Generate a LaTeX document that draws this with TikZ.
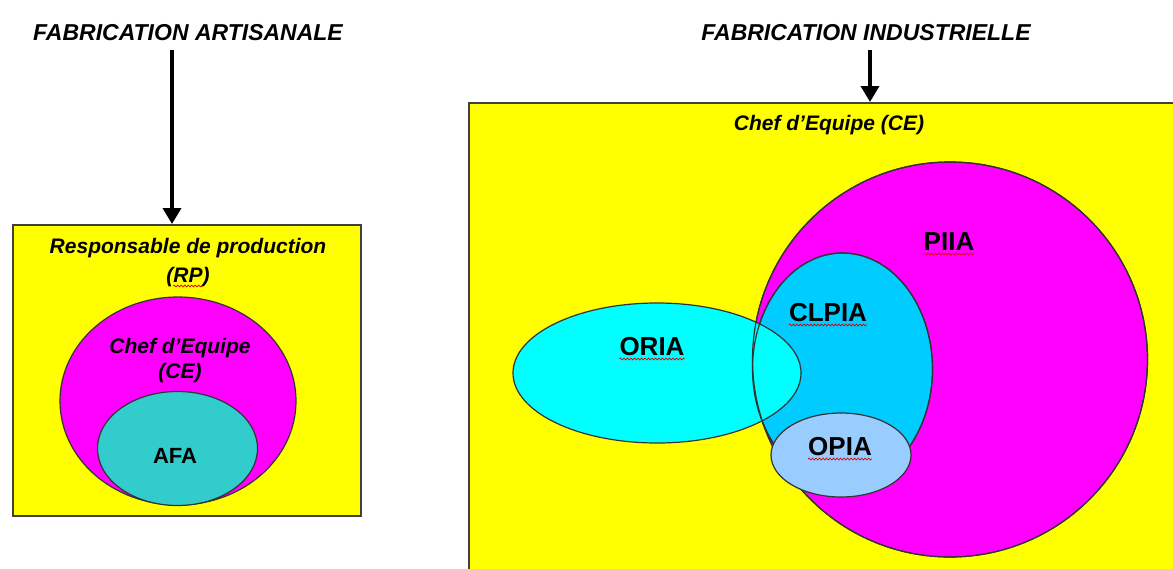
\documentclass[tikz,border=0pt]{standalone}
\usepackage{fontspec}
\setmainfont{Liberation Sans}
\usetikzlibrary{positioning, arrows.meta, shapes.geometric, decorations.pathmorphing}
\definecolor{jaune}{RGB}{255,255,0}
\definecolor{rose}{RGB}{255,0,255}
\definecolor{turquoise}{RGB}{51,204,204}
\definecolor{ciel}{RGB}{0,255,255}
\definecolor{azur}{RGB}{0,204,255}
\definecolor{pale}{RGB}{153,204,255}
\tikzset{
x=1pt, y=-1pt, % coordinates are pixels of the page, y going down
cadre/.style={draw=black!75, line width=1.5pt, fill=jaune, inner sep=0pt}, % the yellow frames
zone/.style={ellipse, draw=black!80, line width=1.2pt, inner sep=0pt}, % the sets
trait/.style={draw=black!80, line width=1.2pt}, % outline drawn again on top
titre/.style={font=\fontsize{23}{28}\selectfont\bfseries\itshape, inner sep=0pt, anchor=base},
role/.style={font=\fontsize{21}{25}\selectfont\bfseries\itshape, inner sep=0pt},
sigle/.style={font=\fontsize{26}{30}\selectfont\bfseries, inner sep=0pt, anchor=base},
fleche/.style={line width=3.5pt, -{Triangle[width=18pt,length=16pt]}},
faute/.style={draw=red!85!black, line width=0.7pt, decorate, decoration={snake, amplitude=0.9pt, segment length=3.5pt}}, % spelling marks
}

\begin{document}
\begin{tikzpicture}
        \useasboundingbox (0,0) rectangle (1173,568);
        \clip (0,0) rectangle (1173,568);

        % fabrication artisanale
        \node[titre] (art) at (188,40) {FABRICATION ARTISANALE};
        \node[cadre, anchor=north west, minimum width=348pt, minimum height=291pt] (rp) at (12,224) {};
        \node[zone, fill=rose, minimum width=236pt, minimum height=208pt] (ce) at (178,401) {};
        \node[zone, fill=turquoise, minimum width=160pt, minimum height=114pt] (afa) at (177.5,448.5) {};
        \node[role, anchor=base] (trp) at (188,253) {Responsable de production};
        \node[role, below of=trp, node distance=29pt] (trp2) {(RP)};
        \node[role, anchor=base] (tce) at (180,353) {Chef d’Equipe};
        \node[role, below of=tce, node distance=25pt] (tce2) {(CE)};
        \node[sigle, font=\fontsize{22}{26}\selectfont\bfseries] (tafa) at (175,463) {AFA};
        \coordinate (d1) at (172,50);
        \draw[fleche] (d1) -- (d1 |- rp.north);
        \draw[faute] ([xshift=7pt,yshift=-4pt]trp2.base west) -- ([xshift=-7pt,yshift=-4pt]trp2.base east);

        % fabrication industrielle
        \node[titre] (ind) at (866,40) {FABRICATION INDUSTRIELLE};
        \node[cadre, anchor=north west, minimum width=740pt, minimum height=520pt] (chef) at (468,102) {};
        \node[role, anchor=base] (tchef) at (829,130) {Chef d’Equipe (CE)};
        \node[zone, fill=rose, minimum width=395pt, minimum height=395pt] (piia) at (950,359.5) {};
        \node[zone, fill=azur, minimum width=180pt, minimum height=232pt] (clpia) at (842.5,369) {};
        \node[zone, fill=ciel, minimum width=288pt, minimum height=140pt] (oria) at (657,373) {};
        \draw[trait] (piia.center) ellipse [x radius=197.5, y radius=197.5];
        \draw[trait] (clpia.center) ellipse [x radius=90, y radius=116];
        \node[zone, fill=pale, minimum width=140pt, minimum height=84pt] (opia) at (841,455) {};
        \node[sigle] (tpiia) at (949,250) {PIIA};
        \node[sigle] (tclpia) at (828,321) {CLPIA};
        \node[sigle] (toria) at (652,355) {ORIA};
        \node[sigle] (topia) at (840,455) {OPIA};
        \coordinate (d2) at (870,50);
        \draw[fleche] (d2) -- (d2 |- chef.north);
        \draw[faute] ([yshift=-4pt]tpiia.base west) -- ([yshift=-4pt]tpiia.base east);
        \draw[faute] ([yshift=-4pt]tclpia.base west) -- ([yshift=-4pt]tclpia.base east);
        \draw[faute] ([yshift=-4pt]toria.base west) -- ([yshift=-4pt]toria.base east);
        \draw[faute] ([yshift=-4pt]topia.base west) -- ([yshift=-4pt]topia.base east);

    \end{tikzpicture}
\end{document}
